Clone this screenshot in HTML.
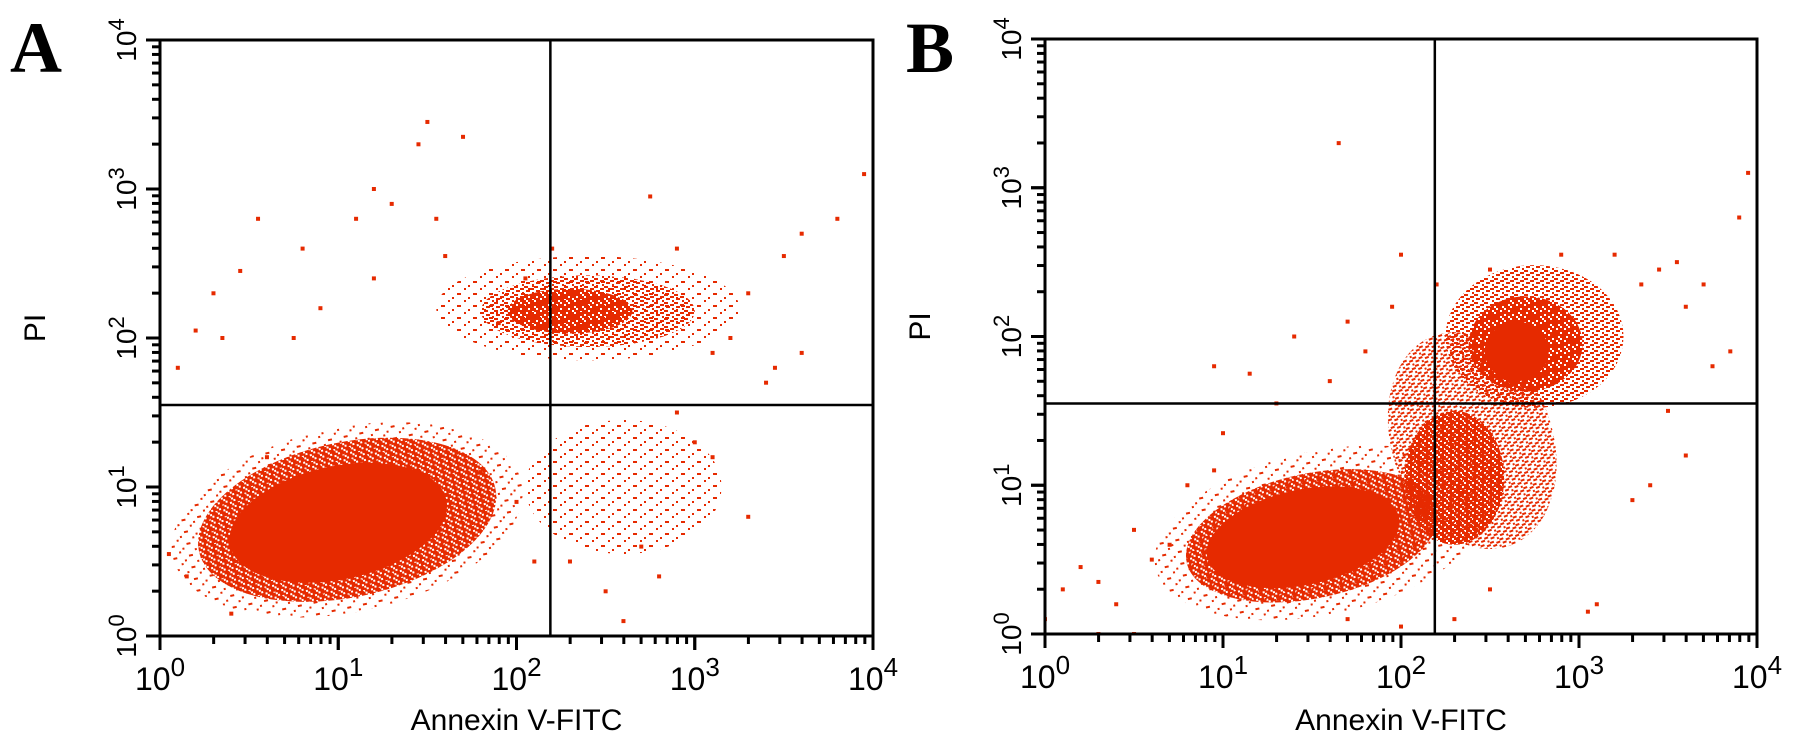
<!DOCTYPE html>
<html><head><meta charset="utf-8"><style>
html,body{margin:0;padding:0;background:#fff;}
svg{display:block;font-family:"Liberation Sans",Arial,sans-serif;}
</style></head><body>
<svg id="fig" width="1795" height="744" viewBox="0 0 1795 744" xmlns="http://www.w3.org/2000/svg">
<defs>
<pattern id="pDense" width="8" height="6" patternUnits="userSpaceOnUse">
<rect x="0" y="0" width="6" height="2" fill="#e62a00"/><rect x="2" y="2" width="6" height="2" fill="#e62a00"/><rect x="0" y="4" width="4" height="2" fill="#e62a00"/><rect x="6" y="4" width="2" height="2" fill="#e62a00"/>
</pattern>
<pattern id="pMed" width="10" height="8" patternUnits="userSpaceOnUse">
<rect x="0" y="0" width="4" height="2" fill="#e62a00"/><rect x="6" y="2" width="4" height="2" fill="#e62a00"/><rect x="2" y="4" width="2" height="2" fill="#e62a00"/><rect x="4" y="6" width="4" height="2" fill="#e62a00"/>
</pattern>
<pattern id="pSparse" width="16" height="12" patternUnits="userSpaceOnUse">
<rect x="0" y="0" width="2" height="2" fill="#e62a00"/><rect x="9" y="5" width="4" height="2" fill="#e62a00"/><rect x="4" y="9" width="2" height="2" fill="#e62a00"/>
</pattern>
</defs>
<text x="10" y="72" font-family="Liberation Serif,serif" font-weight="bold" font-size="72">A</text>
<text x="906" y="72" font-family="Liberation Serif,serif" font-weight="bold" font-size="72">B</text>
</svg>
<script>
// ---- data (log10 units, 0..4) ----
const decades = [0, 1, 2, 3, 4];
const tickExp = ["0", "1", "2", "3", "4"];
const gateX = [2.19, 2.19];          // quadrant gate on Annexin V axis (log10)
const gateY = [1.55, 1.55];          // quadrant gate on PI axis (log10)
// density blobs: [cx, cy, rx, ry, angleDeg, density]
const blobsA = [
  [1.05, 0.78, 1.00, 0.62, 12, 0.2],
  [1.05, 0.78, 0.85, 0.52, 12, 0.6],
  [1.00, 0.76, 0.62, 0.38, 12, 1.0],
  [2.40, 2.20, 0.85, 0.35, 0, 0.2],
  [2.40, 2.18, 0.60, 0.24, 0, 0.4],
  [2.30, 2.18, 0.35, 0.15, 0, 0.6],
  [2.60, 1.00, 0.55, 0.45, 0, 0.2]
];
const blobsB = [
  [1.55, 0.68, 0.95, 0.55, 12, 0.2],
  [1.50, 0.66, 0.72, 0.42, 12, 0.6],
  [1.45, 0.65, 0.55, 0.32, 12, 1.0],
  [2.40, 1.30, 0.45, 0.75, 20, 0.4],
  [2.30, 1.05, 0.28, 0.45, 0, 0.6],
  [2.75, 2.00, 0.50, 0.48, 0, 0.4],
  [2.70, 1.95, 0.32, 0.32, 0, 0.6],
  [2.65, 1.90, 0.18, 0.20, 0, 1.0]
];
// sparse events [x, y]
const pointsA = [[0.3,2.3],[0.35,2.0],[0.45,2.45],[0.55,2.8],[0.8,2.6],[0.9,2.2],[1.1,2.8],[1.2,3.0],[1.3,2.9],[1.45,3.3],[1.5,3.45],[1.55,2.8],[1.7,3.35],[1.9,2.1],[1.2,2.4],[0.2,2.05],[0.1,1.8],[0.75,2.0],[3.6,2.7],[3.8,2.8],[3.95,3.1],[3.5,2.55],[3.3,2.3],[3.1,1.9],[3.4,1.7],[2.9,2.6],[2.75,2.95],[3.2,2.0],[3.0,1.3],[2.8,0.4],[2.5,0.3],[2.6,0.1],[2.3,0.5],[3.3,0.8],[3.1,1.2],[3.6,1.9],[3.45,1.8],[2.9,1.5],[2.7,0.6],[0.15,0.4],[0.05,0.55],[1.6,2.55],[2.2,2.6],[2.05,2.4],[0.6,1.2],[1.8,1.1],[2.0,0.9],[2.1,0.5],[0.4,0.15]];
const pointsB = [[1.65,3.3],[3.95,3.1],[3.9,2.8],[3.55,2.5],[3.45,2.45],[3.7,2.35],[3.85,1.9],[3.75,1.8],[3.2,2.55],[3.35,2.35],[2.9,2.55],[2.5,2.45],[2.2,2.35],[1.95,2.2],[1.7,2.1],[1.4,2.0],[1.15,1.75],[1.3,1.55],[1.6,1.7],[1.8,1.9],[0.95,1.8],[3.5,1.5],[3.6,1.2],[3.4,1.0],[3.3,0.9],[3.1,0.2],[3.05,0.15],[2.5,0.3],[2.3,0.1],[2.0,0.05],[1.7,0.1],[0.0,0.1],[0.3,0.0],[0.5,0.0],[0.2,0.45],[0.3,0.35],[0.4,0.2],[0.6,0.5],[0.7,0.6],[0.1,0.3],[0.5,0.7],[0.8,1.0],[0.95,1.1],[1.0,1.35],[2.0,2.55],[3.6,2.2]];

const NS = "http://www.w3.org/2000/svg";
const svg = document.getElementById("fig");
function mk(tag, attrs, parent) {
  const e = document.createElementNS(NS, tag);
  for (const k in attrs) e.setAttribute(k, attrs[k]);
  (parent || svg).appendChild(e);
  return e;
}
function fillFor(d) {
  if (d >= 0.9) return "#e62a00";
  if (d >= 0.5) return "url(#pDense)";
  if (d >= 0.3) return "url(#pMed)";
  return "url(#pSparse)";
}
const panels = [
  {id: "a", L: 160, T: 40, R: 873, B: 636, blobs: blobsA, pts: pointsA, g: 0},
  {id: "b", L: 1045, T: 39, R: 1757, B: 634, blobs: blobsB, pts: pointsB, g: 1}
];
panels.forEach(p => {
  const W = p.R - p.L, H = p.B - p.T;
  const sx = v => p.L + v / 4 * W;
  const sy = v => p.B - v / 4 * H;
  const grp = mk("g", {});
  
  
  const clip = mk("clipPath", {id: "clip" + p.id}, grp);
  mk("rect", {x: p.L, y: p.T, width: W, height: H}, clip);
  const dg = mk("g", {"clip-path": "url(#clip" + p.id + ")"}, grp);
  
  
  p.blobs.forEach(b => {
    const cx = sx(b[0]), cy = sy(b[1]);
    const el = mk("ellipse", {cx: cx, cy: cy, rx: b[2] / 4 * W, ry: b[3] / 4 * H,
      transform: "rotate(" + (-b[4]) + " " + cx + " " + cy + ")", fill: fillFor(b[5])}, dg);
    
    
  });
  p.pts.forEach(q => {
    const el = mk("rect", {x: sx(q[0]) - 2, y: sy(q[1]) - 2, width: 4, height: 4, fill: "#e62a00"}, dg);
    
    
  });
  const gv = mk("line", {x1: sx(gateX[p.g]), x2: sx(gateX[p.g]), y1: p.T, y2: p.B, stroke: "#000", "stroke-width": 2.5}, grp);
  
  
  const gh = mk("line", {x1: p.L, x2: p.R, y1: sy(gateY[p.g]), y2: sy(gateY[p.g]), stroke: "#000", "stroke-width": 2.5}, grp);
  
  
  const fr = mk("rect", {x: p.L, y: p.T, width: W, height: H, fill: "none", stroke: "#000", "stroke-width": 3}, grp);
  
  
  const tg = mk("g", {stroke: "#000", "stroke-width": 3}, grp);
  
  
  for (let d = 0; d < 4; d++) {
    for (let m = 1; m <= 10; m++) {
      const v = d + Math.log10(m);
      const len = (m === 1 || m === 10) ? 14 : 8;
      mk("line", {x1: sx(v), x2: sx(v), y1: p.B, y2: p.B + len}, tg);
      mk("line", {x1: p.L, x2: p.L - len, y1: sy(v), y2: sy(v)}, tg);
    }
  }
  decades.forEach((d, i) => {
    const xl = mk("text", {x: sx(d), y: p.B + 54, "text-anchor": "middle", "font-size": 32}, grp);
    
    
    xl.innerHTML = '10<tspan dy="-14" font-size="26">' + tickExp[i] + '</tspan>';
    const yl = mk("text", {x: 0, y: 0, "text-anchor": "middle", "font-size": 28,
      transform: "translate(" + (p.L - 24) + "," + sy(d) + ") rotate(-90)"}, grp);
    
    
    yl.innerHTML = '10<tspan dy="-12" font-size="22">' + tickExp[i] + '</tspan>';
  });
  const xt = mk("text", {x: (p.L + p.R) / 2, y: 730, "text-anchor": "middle", "font-size": 30}, grp);
  
  
  xt.textContent = "Annexin V-FITC";
  const yt = mk("text", {x: 0, y: 0, "text-anchor": "middle", "font-size": 30,
    transform: "translate(" + (p.L - 115) + "," + ((p.T + p.B) / 2 - 10) + ") rotate(-90)"}, grp);
  
  
  yt.textContent = "PI";
});
</script>
</body></html>
